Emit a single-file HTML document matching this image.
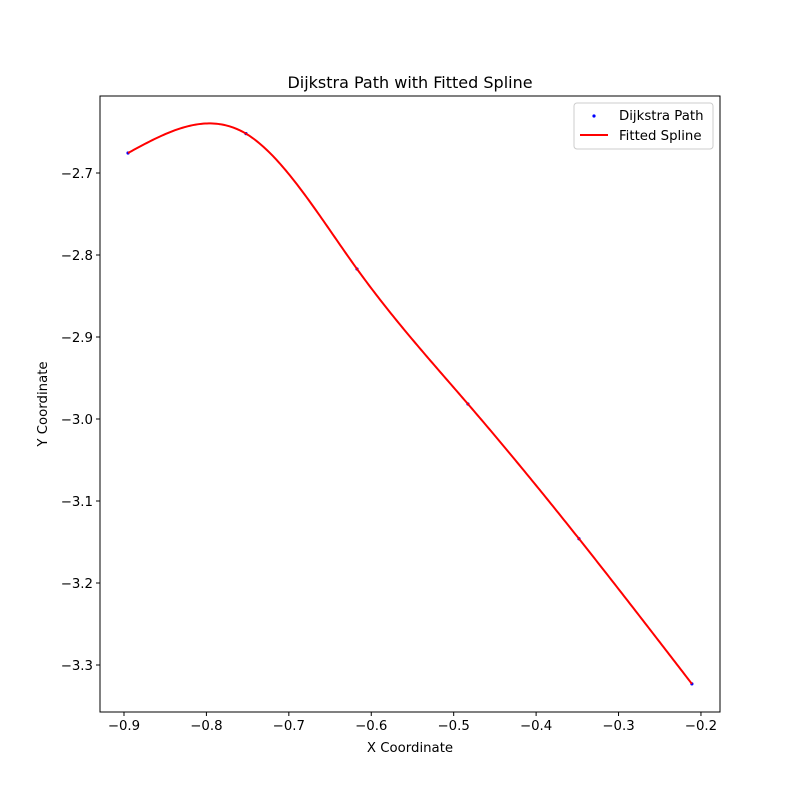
<!DOCTYPE html>
<html><head><meta charset="utf-8"><style>
body{margin:0;background:#fff}
svg text{font-family:"DejaVu Sans","Liberation Sans",sans-serif}
</style></head><body>
<svg width="800" height="800" viewBox="0 0 800 800">
<rect width="800" height="800" fill="#fff"/>
<g id="plot"></g>
<text x="410" y="88" font-size="16" text-anchor="middle">Dijkstra Path with Fitted Spline</text>
<text x="410" y="752" font-size="13.3" text-anchor="middle">X Coordinate</text>
<text x="47" y="404" font-size="13.3" text-anchor="middle" transform="rotate(-90 47 404)">Y Coordinate</text>
<g>
<rect x="574" y="103" width="139" height="46" rx="3" fill="#fff" stroke="#ccc"/>
<circle cx="594" cy="116" r="1.6" fill="blue"/>
<text x="619" y="120" font-size="13.3">Dijkstra Path</text>
<line x1="580" y1="135" x2="608" y2="135" stroke="red" stroke-width="2"/>
<text x="619" y="140" font-size="13.3">Fitted Spline</text>
</g>
</svg>
<script>
const xs=[-0.8951,-0.752,-0.6173,-0.4827,-0.348,-0.211];
const ys=[-2.6756,-2.652,-2.817,-2.9817,-3.146,-3.323];
const xTicks=[-0.9,-0.8,-0.7,-0.6,-0.5,-0.4,-0.3,-0.2];
const xTickLabels=["−0.9","−0.8","−0.7","−0.6","−0.5","−0.4","−0.3","−0.2"];
const yTicks=[-2.7,-2.8,-2.9,-3.0,-3.1,-3.2,-3.3];
const yTickLabels=["−2.7","−2.8","−2.9","−3.0","−3.1","−3.2","−3.3"];
const X0=-0.9291,X1=-0.1769,Y0=-3.3573,Y1=-2.6061;
const L=100,R=720,T=96,B=712;
const sx=v=>L+(v-X0)/(X1-X0)*(R-L);
const sy=v=>B-(v-Y0)/(Y1-Y0)*(B-T);
const NS="http://www.w3.org/2000/svg";
const g=document.getElementById('plot');
function mk(t,a){const e=document.createElementNS(NS,t);for(const k in a)e.setAttribute(k,a[k]);g.appendChild(e);return e;}
// natural cubic spline
const n=xs.length,h=[];for(let i=0;i<n-1;i++)h.push(xs[i+1]-xs[i]);
const A=[],b=[];for(let i=0;i<n;i++){A.push(new Array(n).fill(0));b.push(0);}
A[0][0]=1;
for(let i=1;i<n-1;i++){A[i][i-1]=h[i-1];A[i][i]=2*(h[i-1]+h[i]);A[i][i+1]=h[i];
b[i]=6*((ys[i+1]-ys[i])/h[i]-(ys[i]-ys[i-1])/h[i-1]);}
A[n-1][n-1]=1;
for(let c=0;c<n;c++){let p=c;for(let r=c+1;r<n;r++)if(Math.abs(A[r][c])>Math.abs(A[p][c]))p=r;
[A[c],A[p]]=[A[p],A[c]];[b[c],b[p]]=[b[p],b[c]];
for(let r=0;r<n;r++)if(r!==c){const f=A[r][c]/A[c][c];for(let k=c;k<n;k++)A[r][k]-=f*A[c][k];b[r]-=f*b[c];}}
const M=b.map((v,i)=>v/A[i][i]);
function S(x){let i=0;while(i<n-2&&x>xs[i+1])i++;const a=xs[i+1]-x,c=x-xs[i],hh=h[i];
return M[i]*a*a*a/(6*hh)+M[i+1]*c*c*c/(6*hh)+(ys[i]/hh-M[i]*hh/6)*a+(ys[i+1]/hh-M[i+1]*hh/6)*c;}
let d="";for(let k=0;k<=300;k++){const x=xs[0]+(xs[n-1]-xs[0])*k/300;d+=(k?"L":"M")+sx(x).toFixed(2)+","+sy(S(x)).toFixed(2);}
xs.forEach((x,i)=>{const c=mk('circle',{cx:sx(x),cy:sy(ys[i]),r:1.6,fill:'blue'});

});
const p=mk('path',{d:d,fill:'none',stroke:'red','stroke-width':2});


const fr=mk('rect',{x:L,y:T,width:R-L,height:B-T,fill:'none',stroke:'#000','stroke-width':1});


xTicks.forEach((v,i)=>{const x=sx(v);const l=mk('line',{x1:x,y1:B,x2:x,y2:B+4,stroke:'#000'});


const t=mk('text',{x:x,y:B+18,'font-size':13.3,'text-anchor':'middle'});t.textContent=xTickLabels[i];

});
yTicks.forEach((v,i)=>{const y=sy(v);const l=mk('line',{x1:L-4,y1:y,x2:L,y2:y,stroke:'#000'});


const t=mk('text',{x:L-7,y:y+5,'font-size':13.3,'text-anchor':'end'});t.textContent=yTickLabels[i];

});
</script>
</body></html>
